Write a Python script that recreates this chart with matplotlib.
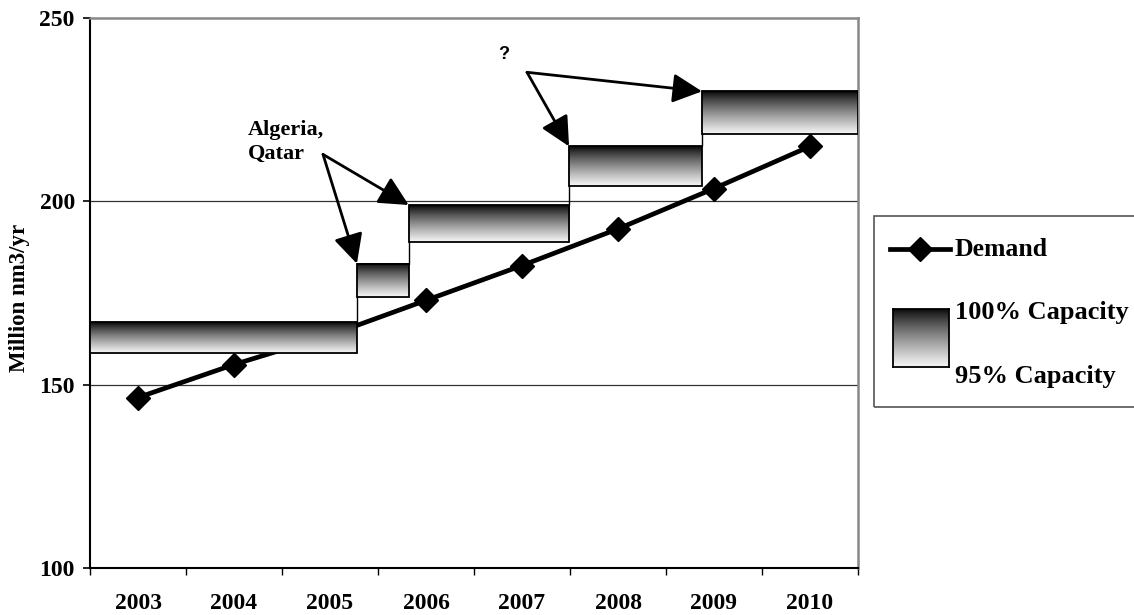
import numpy as np
import matplotlib
matplotlib.use("Agg")
import matplotlib.pyplot as plt
from matplotlib.patches import Rectangle
from matplotlib.lines import Line2D

plt.rcParams["font.family"] = "Liberation Serif"
plt.rcParams["font.weight"] = "bold"

# data
years = ["2003", "2004", "2005", "2006", "2007", "2008", "2009", "2010"]
demand = [146.5, 155.5, 163.5, 173.0, 182.5, 192.5, 203.5, 215.0]

# capacity steps: start (fractional year) and 100% capacity level
cap_start = [2003.0, 2005.78, 2006.32, 2007.99, 2009.375]
cap_end = 2011.0
capacity = [167, 183, 199, 215, 230]
low_share = 0.95

yticks = [100, 150, 200, 250]


def yr2x(y):
    return y - 2003.5


fig = plt.figure(figsize=(11.34, 6.15), dpi=100)
ax = fig.add_axes([0.0794, 0.0764, 0.6772, 0.8943])

x = np.arange(len(years))
ax.plot(x, demand, color="black", lw=3.4, marker="D", markersize=12.5, zorder=3)

# gradient for the capacity bands: black at 100%, white at 95%
grad = (np.linspace(0, 1, 256) ** 0.8 * 0.97).reshape(-1, 1)

edges = [yr2x(s) for s in cap_start] + [yr2x(cap_end)]
for i, cap in enumerate(capacity):
    x0, x1 = edges[i], edges[i + 1]
    lo = cap * low_share
    ax.imshow(grad, cmap="gray", vmin=0, vmax=1, aspect="auto",
              extent=(x0, x1, lo, cap), origin="upper", zorder=4,
              interpolation="bilinear")
    ax.add_patch(Rectangle((x0, lo), x1 - x0, cap - lo, fill=False,
                           edgecolor="black", lw=1.3, zorder=5))

ax.step(edges, capacity + [capacity[-1]], where="post", color="black",
        lw=1.0, zorder=3)

ax.set_xlim(-0.5, len(years) - 0.5)
ax.set_ylim(100, 250)
ax.set_yticks(yticks)
ax.set_yticklabels([str(t) for t in yticks], fontsize=17, fontweight="bold")
ax.tick_params(axis="y", direction="out", length=5, width=1.2, pad=6)

ax.set_xticks(np.arange(-0.5, len(years)), minor=False)
ax.set_xticklabels([])
ax.tick_params(axis="x", which="major", direction="out", length=5, width=1.0)
ax.set_xticks(x, minor=True)
ax.set_xticklabels(years, minor=True, fontsize=17, fontweight="bold")
ax.tick_params(axis="x", which="minor", length=0, pad=18)

for g in [150, 200]:
    ax.axhline(g, color="#333333", lw=0.9, zorder=1)

ax.spines["left"].set_linewidth(1.5)
ax.spines["bottom"].set_linewidth(1.5)
ax.spines["top"].set_color("#888888")
ax.spines["right"].set_color("#888888")
ax.spines["top"].set_linewidth(1.8)
ax.spines["right"].set_linewidth(1.8)

fig.text(0.017, 0.515, "Million nm3/yr", rotation=90, ha="center",
         va="center", fontsize=16.5, fontweight="bold")

# annotations
arrow_kw = dict(arrowstyle="-|>,head_length=1.0,head_width=0.5",
                color="black", lw=2, mutation_scale=18, shrinkA=0, shrinkB=0)
ax.text(1.146, 222.3, "Algeria,\nQatar", fontsize=16, fontweight="bold",
        ha="left", va="top", linespacing=1.3)
for i in [1, 2]:
    ax.annotate("", xy=(edges[i], capacity[i]), xytext=(1.927, 212.8),
                arrowprops=arrow_kw, zorder=6, annotation_clip=False)

ax.text(3.81, 240.0, "?", fontsize=13, fontweight="bold", ha="center",
        va="center", family="Liberation Sans")
for i in [3, 4]:
    ax.annotate("", xy=(edges[i], capacity[i]), xytext=(4.052, 235.2),
                arrowprops=arrow_kw, zorder=6, annotation_clip=False)

# legend drawn by hand, outside the plot
W, H = 1134.0, 615.0


def fx(px):
    return px / W


def fy(py):
    return 1 - py / H


fig.add_artist(Rectangle((fx(874), fy(407)), fx(1200) - fx(874),
                         fy(216) - fy(407), transform=fig.transFigure,
                         fill=False, edgecolor="#555555", lw=1.2))
fig.add_artist(Line2D([fx(890), fx(950)], [fy(249), fy(249)],
                      transform=fig.transFigure, color="black", lw=3.4))
fig.add_artist(Line2D([fx(920)], [fy(249)], transform=fig.transFigure,
                      color="black", marker="D", markersize=12, lw=0))
fig.text(fx(955), fy(249), "Demand", fontsize=18.5, fontweight="bold",
         va="center", ha="left")

lax = fig.add_axes([fx(893), fy(367), fx(949) - fx(893), fy(309) - fy(367)])
lax.imshow(grad, cmap="gray", vmin=0, vmax=1, aspect="auto",
           interpolation="bilinear")
lax.set_xticks([])
lax.set_yticks([])
for s in lax.spines.values():
    s.set_linewidth(1.3)

fig.text(fx(955), fy(313), "100% Capacity", fontsize=19, fontweight="bold",
         va="center", ha="left")
fig.text(fx(955), fy(377), "95% Capacity", fontsize=19, fontweight="bold",
         va="center", ha="left")

fig.savefig("out.png", dpi=100)
